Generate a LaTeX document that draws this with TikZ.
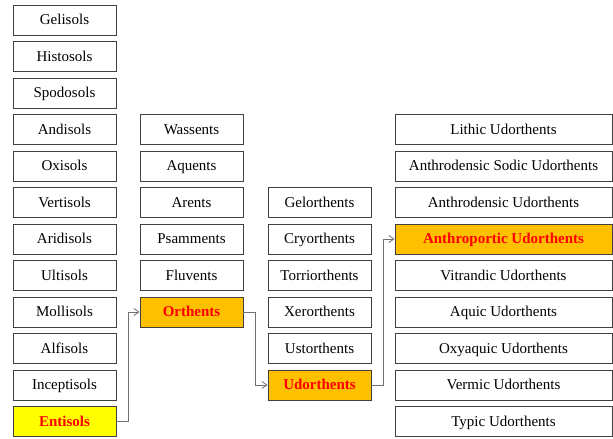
\documentclass[tikz,border=0pt]{standalone}
\usepackage{fontspec}
\setmainfont{Liberation Serif}
\usetikzlibrary{arrows.meta}
\definecolor{boxline}{HTML}{404040}
\definecolor{linkgray}{HTML}{707070}
\definecolor{hlorange}{HTML}{FFC000}
\definecolor{hlyellow}{HTML}{FFFF00}
\begin{document}
\begin{tikzpicture}[x=1pt,y=-1pt,
  box/.style={draw=boxline,line width=0.9pt,fill=white,minimum height=30pt,inner sep=0pt,text height=12pt,text depth=2.6pt,font=\fontsize{15}{17}\selectfont},
  boxa/.style={box,minimum width=103pt},
  boxd/.style={box,minimum width=217pt},
  hl/.style={fill=hlorange,text=red,font=\fontsize{15}{17}\selectfont\bfseries},
  link/.style={draw=linkgray,line width=0.8pt,-{Straight Barb[length=5pt,width=7pt]}}]
\useasboundingbox[fill=white] (0,0) rectangle (613,439);
% column 1
\foreach \i/\nm/\t in {0/gel/Gelisols,1/his/Histosols,2/spo/Spodosols,3/and/Andisols,4/oxi/Oxisols,5/ver/Vertisols,6/ari/Aridisols,7/ult/Ultisols,8/mol/Mollisols,9/alf/Alfisols,10/inc/Inceptisols}
  \node[boxa] (\nm) at (64.5,20+36.5*\i) {\t};
\node[boxa,hl,fill=hlyellow] (ent) at (64.5,20+36.5*11) {Entisols};
% column 2
\foreach \i/\nm/\t in {3/was/Wassents,4/aqu/Aquents,5/are/Arents,6/psa/Psamments,7/flu/Fluvents}
  \node[boxa] (\nm) at (191.5,20+36.5*\i) {\t};
\node[boxa,hl] (ort) at (191.5,20+36.5*8) {Orthents};
% column 3
\foreach \i/\nm/\t in {5/gelo/Gelorthents,6/cry/Cryorthents,7/tor/Torriorthents,8/xer/Xerorthents,9/ust/Ustorthents}
  \node[boxa] (\nm) at (319.5,20+36.5*\i) {\t};
\node[boxa,hl] (udo) at (319.5,20+36.5*10) {Udorthents};
% column 4
\foreach \i/\nm/\t in {3/lit/Lithic Udorthents,4/ads/Anthrodensic Sodic Udorthents,5/adn/Anthrodensic Udorthents,7/vit/Vitrandic Udorthents,8/aqd/Aquic Udorthents,9/oxy/Oxyaquic Udorthents,10/verm/Vermic Udorthents,11/typ/Typic Udorthents}
  \node[boxd] (\nm) at (503.5,20+36.5*\i) {\t};
\node[boxd,hl] (ant) at (503.5,20+36.5*6) {Anthroportic Udorthents};
% links
\draw[link] (ent.east) -- ++(12,0) |- (ort.west);
\draw[link] (ort.east) -- ++(12,0) |- (udo.west);
\draw[link] (udo.east) -- ++(12,0) |- (ant.west);
\end{tikzpicture}
\end{document}
